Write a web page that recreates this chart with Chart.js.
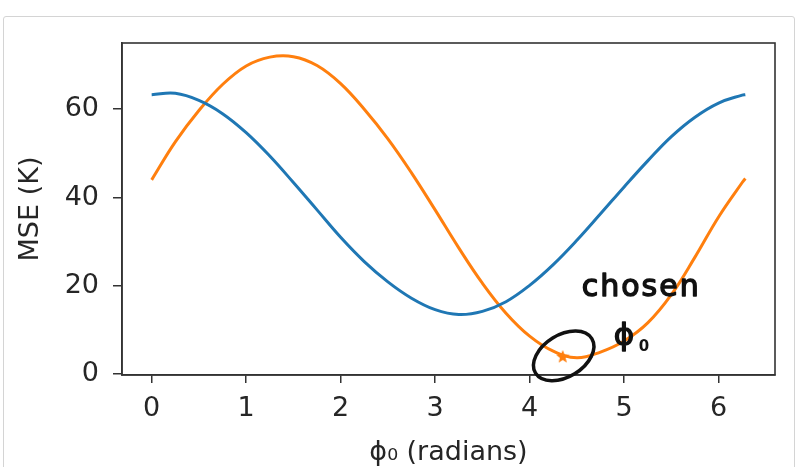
<!DOCTYPE html>
<html>
<head>
<meta charset="utf-8">
<script src="https://cdn.jsdelivr.net/npm/chart.js@4"></script>
<style>
  body { margin: 0; background: #fff; }
  #frame { position: absolute; left: 3px; top: 16px; width: 790px; height: 470px;
           border: 1px solid #d4d4d4; border-radius: 3px; }
  #wrap { position: absolute; left: 0; top: 0; width: 808px; height: 467px; }
</style>
</head>
<body>
<div id="frame"></div>
<div id="wrap"><canvas id="mseChart"></canvas></div>
<script>
// phase values (radians) where the curves were read
const phases = [0, 0.25, 0.5, 0.75, 1.0, 1.25, 1.5, 1.75, 2.0, 2.25, 2.5, 2.75, 3.0,
                3.25, 3.5, 3.75, 4.0, 4.25, 4.5, 4.75, 5.0, 5.25, 5.5, 5.75, 6.0, 6.25, 6.283];
const blueMse = [63.3, 63.6, 62.0, 59.0, 54.7, 49.4, 43.4, 37.2, 31.0, 25.5, 20.9, 17.2, 14.6,
                 13.5, 14.2, 16.4, 20.1, 24.8, 30.3, 36.3, 42.4, 48.3, 53.8, 58.2, 61.4, 63.2, 63.3];
const orangeMse = [44.0, 52.6, 59.7, 65.6, 69.8, 71.8, 71.9, 69.9, 65.8, 60.0, 53.3, 45.6, 37.2,
                   28.6, 20.6, 13.8, 8.6, 5.2, 3.7, 5.0, 7.5, 11.6, 18.0, 26.5, 35.6, 43.4, 44.3];
const chosenPhase = [4.35];
const chosenMse = [3.9];
const xTicks = [0, 1, 2, 3, 4, 5, 6];
const yTicks = [0, 20, 40, 60];

const toPoints = (xs, ys) => xs.map((x, i) => ({ x: x, y: ys[i] }));

// small filled star like matplotlib's '*'
const starImg = document.createElement('canvas');
starImg.width = 14; starImg.height = 14;
(function () {
  const c = starImg.getContext('2d');
  c.fillStyle = '#ff7f0e';
  c.beginPath();
  for (let i = 0; i < 10; i++) {
    const r = i % 2 === 0 ? 7 : 3;
    const a = -Math.PI / 2 + i * Math.PI / 5;
    c.lineTo(7 + r * Math.cos(a), 7 + r * Math.sin(a));
  }
  c.closePath();
  c.fill();
})();

const axisBox = {
  id: 'axisBox',
  afterDatasetsDraw(chart) {
    const a = chart.chartArea, ctx = chart.ctx;
    ctx.save();
    ctx.strokeStyle = '#333';
    ctx.lineWidth = 1.6;
    ctx.strokeRect(a.left, a.top, a.right - a.left, a.bottom - a.top);
    ctx.restore();
  }
};

// hand-drawn note round the chosen phase
const handNote = {
  id: 'handNote',
  afterDraw(chart) {
    const ctx = chart.ctx;
    const px = chart.scales.x.getPixelForValue(chosenPhase[0]);
    const py = chart.scales.y.getPixelForValue(chosenMse[0]);
    ctx.save();
    ctx.strokeStyle = '#111';
    ctx.fillStyle = '#111';
    ctx.lineWidth = 3.5;
    ctx.beginPath();
    ctx.ellipse(px + 1, py - 1, 33, 21, -0.55, 0, Math.PI * 2);
    ctx.stroke();
    ctx.textBaseline = 'alphabetic';
    ctx.lineWidth = 1.4;
    ctx.lineJoin = 'round';
    ctx.letterSpacing = '2px';
    ctx.font = '30px "DejaVu Sans"';
    ctx.fillText('chosen', px + 19, py - 61);
    ctx.strokeText('chosen', px + 19, py - 61);
    ctx.letterSpacing = '0px';
    ctx.font = '31px "DejaVu Sans"';
    ctx.fillText('ϕ', px + 51, py - 12);
    ctx.strokeText('ϕ', px + 51, py - 12);
    ctx.font = 'bold 15px "DejaVu Sans"';
    ctx.fillText('0', px + 76, py - 6);
    ctx.restore();
  }
};

const axisFont = { family: 'DejaVu Sans', size: 27 };

new Chart(document.getElementById('mseChart'), {
  type: 'line',
  data: {
    datasets: [
      {
        data: toPoints(phases, blueMse),
        borderColor: '#1f77b4',
        borderWidth: 3,
        pointRadius: 0,
        tension: 0.4,
        fill: false
      },
      {
        data: toPoints(phases, orangeMse),
        borderColor: '#ff7f0e',
        borderWidth: 3,
        pointRadius: 0,
        tension: 0.4,
        fill: false
      },
      {
        data: toPoints(chosenPhase, chosenMse),
        showLine: false,
        pointStyle: starImg,
        pointRadius: 7,
        borderColor: '#ff7f0e',
        backgroundColor: '#ff7f0e'
      }
    ]
  },
  options: {
    responsive: true,
    maintainAspectRatio: false,
    animation: false,
    layout: { padding: { left: 0, right: 33, top: 43, bottom: 0 } },
    plugins: {
      legend: { display: false },
      tooltip: { enabled: false }
    },
    scales: {
      x: {
        type: 'linear',
        min: -0.314,
        max: 6.597,
        afterBuildTicks: (s) => { s.ticks = xTicks.map(v => ({ value: v })); },
        afterFit: (s) => { s.height = 92; },
        grid: { display: true, drawOnChartArea: false, drawTicks: true, tickLength: 8, color: '#333', lineWidth: 1.5 },
        border: { display: true, color: '#333', width: 1.6 },
        ticks: { color: '#262626', font: axisFont, padding: 10, maxRotation: 0 },
        title: {
          display: true,
          text: 'ϕ₀ (radians)',
          color: '#262626',
          font: axisFont,
          padding: { top: 0, bottom: -2 }
        }
      },
      y: {
        type: 'linear',
        min: -0.2,
        max: 75,
        afterBuildTicks: (s) => { s.ticks = yTicks.map(v => ({ value: v })); },
        afterFit: (s) => { s.width = 122; },
        grid: { display: true, drawOnChartArea: false, drawTicks: true, tickLength: 9, color: '#333', lineWidth: 1.5 },
        border: { display: true, color: '#333', width: 1.6 },
        ticks: { color: '#262626', font: axisFont, padding: 14 },
        title: {
          display: true,
          text: 'MSE (K)',
          color: '#262626',
          font: axisFont,
          padding: { top: 15, bottom: 0 }
        }
      }
    }
  },
  plugins: [axisBox, handNote]
});
</script>
</body>
</html>
